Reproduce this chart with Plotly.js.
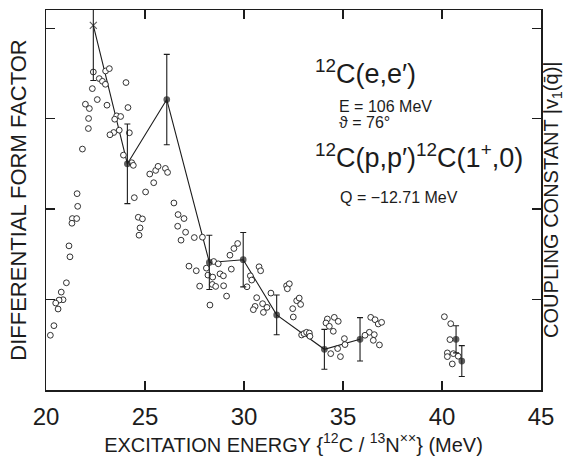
<!DOCTYPE html>
<html>
<head>
<meta charset="utf-8">
<script src="https://cdn.plot.ly/plotly-3.0.1.min.js"></script>
<style>html,body{margin:0;padding:0;background:#fff;}#chart{width:571px;height:462px;}</style>
</head>
<body>
<div id="chart"></div>
<script>
// Open circles: 12C(e,e') differential form factor
const circX = [22.39,23.01,23.20,22.69,22.85,23.00,22.34,24.04,22.59,21.99,22.19,23.08,24.14,22.15,23.57,23.77,23.47,22.14,23.70,23.42,23.23,24.21,21.84,23.91,24.33,24.41,25.24,25.54,25.66,26.03,26.14,25.44,21.57,24.46,25.03,
21.60,26.46,26.67,26.97,24.66,24.87,21.33,21.55,21.31,24.75,26.65,27.05,24.70,26.82,27.49,27.90,21.16,21.21,29.68,29.49,29.29,27.22,27.59,28.10,28.47,28.70,28.18,28.42,28.79,28.96,29.36,27.76,28.40,28.57,28.97,29.12,28.28,30.76,30.84,30.32,30.39,30.15,21.03,20.77,20.86,20.66,20.49,20.61,20.40,20.22,31.36,30.64,30.94,30.56,31.16,30.47,30.98,
32.15,32.29,32.19,32.66,32.79,32.86,32.46,32.49,32.91,33.03,33.16,33.30,33.33,34.21,34.14,34.31,34.56,34.76,34.51,35.07,35.10,34.73,34.38,34.87,36.40,36.62,36.78,36.95,36.33,36.11,36.58,36.53,36.84,40.12,40.44,40.40,40.27,40.27,40.57,40.82,40.52];
const circY = [3.515,3.526,3.552,3.442,3.412,3.379,3.331,3.398,3.210,3.159,3.111,3.148,3.122,3.001,3.030,3.023,2.993,2.890,2.872,2.846,2.821,2.843,2.663,2.596,2.512,2.483,2.387,2.427,2.472,2.449,2.405,2.291,2.170,2.126,2.189,
2.030,2.067,1.939,1.895,1.909,1.891,1.895,1.895,1.843,1.792,1.810,1.744,1.711,1.656,1.685,1.689,1.593,1.472,1.619,1.564,1.490,1.369,1.318,1.347,1.420,1.395,1.270,1.248,1.284,1.262,1.336,1.148,1.167,1.145,1.152,1.038,0.939,1.362,1.318,1.262,1.215,1.141,1.185,1.082,0.998,0.994,0.961,0.895,0.711,0.605,1.071,1.020,0.954,0.924,0.913,0.888,0.858,
1.152,1.174,1.119,0.987,1.016,0.946,0.899,0.807,0.608,0.623,0.638,0.630,0.594,0.785,0.741,0.704,0.803,0.759,0.649,0.568,0.502,0.458,0.402,0.369,0.803,0.777,0.730,0.748,0.638,0.605,0.612,0.549,0.498,0.810,0.733,0.557,0.410,0.369,0.402,0.373,0.288];

// 12C(p,p') coupling constant points with error bars
const ppX   = [22.39, 24.11, 26.10, 28.25, 29.96, 31.65, 34.06, 35.86, 40.71, 41.00];
const ppY   = [4.03, 2.50, 3.21, 1.41, 1.44, 0.83, 0.45, 0.56, 0.56, 0.32];
const ppErr = [0.61, 0.44, 0.50, 0.30, 0.30, 0.22, 0.22, 0.24, 0.15, 0.17];
const nConnected = 8;

// Axis ticks
const xTicks = [20, 25, 30, 35, 40, 45];
const yTicks = [1, 2, 3, 4];

const ink = '#1c1c1c';
const FONT = 'Liberation Sans, Arial, sans-serif';

const traces = [
  {x: ppX.slice(0, nConnected), y: ppY.slice(0, nConnected), mode: 'lines',
   line: {color: ink, width: 1.1}, hoverinfo: 'skip', showlegend: false},
  {x: circX, y: circY, mode: 'markers',
   marker: {symbol: 'circle', size: 5.8, color: '#ffffff', line: {color: ink, width: 0.9}},
   showlegend: false},
  {x: ppX, y: ppY, mode: 'markers',
   marker: {symbol: ppX.map((v, i) => i === 0 ? 'x-thin' : 'circle'), size: ppX.map((v, i) => i === 0 ? 7 : 5.5),
            color: ink, line: {color: ink, width: 1.2}},
   error_y: {type: 'data', array: ppErr, visible: true, color: ink, thickness: 1.1, width: 3},
   showlegend: false}
];

const layout = {
  width: 571, height: 462,
  margin: {l: 46, r: 30, t: 10, b: 72, pad: 0},
  paper_bgcolor: '#fff', plot_bgcolor: '#fff',
  font: {family: FONT, color: ink},
  showlegend: false,
  xaxis: {
    range: [20, 45], tickvals: xTicks, ticktext: xTicks.map(String),
    ticks: 'inside', ticklen: 9, tickwidth: 1.2, tickcolor: ink,
    showline: true, linecolor: ink, linewidth: 1.5, mirror: 'ticks',
    showgrid: false, zeroline: false, automargin: false,
    tickfont: {size: 24, family: FONT, color: ink},
    ticklabelstandoff: 5,
    title: {text: 'EXCITATION ENERGY {<sup>12</sup>C / <sup>13</sup>N<sup>××</sup>} (MeV)',
            font: {size: 20, family: FONT, color: ink}, standoff: 0}
  },
  yaxis: {
    range: [0, 4.2], tickvals: yTicks, showticklabels: false,
    ticks: 'inside', ticklen: 9, tickwidth: 1.2, tickcolor: ink,
    showline: true, linecolor: ink, linewidth: 1.5, mirror: 'ticks',
    showgrid: false, zeroline: false, automargin: false,
    title: {text: 'DIFFERENTIAL FORM FACTOR', font: {size: 22, family: FONT, color: ink}, standoff: 12}
  },
  annotations: [
    {x: 1.022, y: 0.5, xref: 'paper', yref: 'paper', xanchor: 'center', yanchor: 'middle', showarrow: false,
     textangle: -90, text: 'COUPLING CONSTANT |v<sub>1</sub>(q̄)|', font: {size: 20, family: FONT, color: ink}},
    {x: 33.48, y: 3.51, xref: 'x', yref: 'y', xanchor: 'left', yanchor: 'middle', showarrow: false,
     text: '<sup>12</sup>C(e,e′)', font: {size: 27, family: FONT, color: ink}},
    {x: 34.70, y: 3.136, xref: 'x', yref: 'y', xanchor: 'left', yanchor: 'middle', showarrow: false,
     text: 'E = 106 MeV', font: {size: 16, family: FONT, color: ink}},
    {x: 34.70, y: 2.955, xref: 'x', yref: 'y', xanchor: 'left', yanchor: 'middle', showarrow: false,
     text: 'ϑ = 76°', font: {size: 16, family: FONT, color: ink}},
    {x: 33.48, y: 2.585, xref: 'x', yref: 'y', xanchor: 'left', yanchor: 'middle', showarrow: false,
     text: '<sup>12</sup>C(p,p′)<sup>12</sup>C(1<sup>+</sup>,0)', font: {size: 27, family: FONT, color: ink}},
    {x: 34.75, y: 2.133, xref: 'x', yref: 'y', xanchor: 'left', yanchor: 'middle', showarrow: false,
     text: 'Q = −12.71 MeV', font: {size: 16, family: FONT, color: ink}}
  ]
};

Plotly.newPlot('chart', traces, layout, {staticPlot: true, displayModeBar: false});
</script>
</body>
</html>
